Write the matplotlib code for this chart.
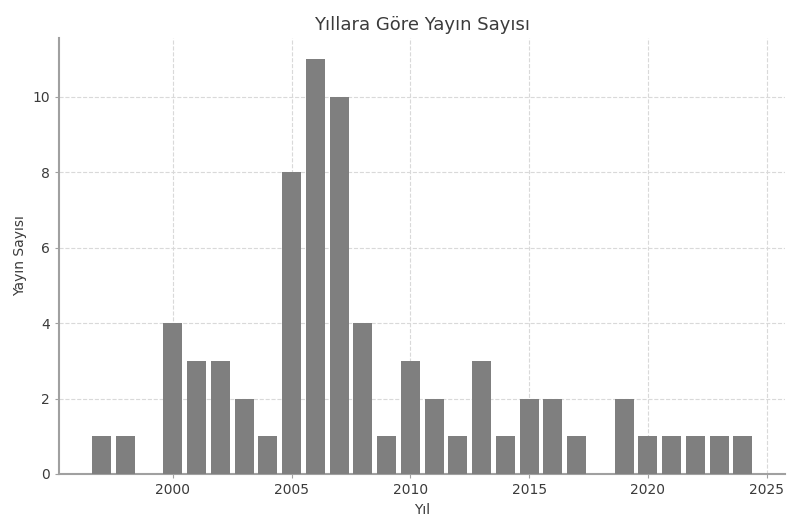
import matplotlib

matplotlib.use("Agg")
import matplotlib.pyplot as plt

# yearly publication counts
years = [1997, 1998, 1999, 2000, 2001, 2002, 2003, 2004, 2005, 2006, 2007,
         2008, 2009, 2010, 2011, 2012, 2013, 2014, 2015, 2016, 2017, 2018,
         2019, 2020, 2021, 2022, 2023, 2024]
counts = [1, 1, 0, 4, 3, 3, 2, 1, 8, 11, 10,
          4, 1, 3, 2, 1, 3, 1, 2, 2, 1, 0,
          2, 1, 1, 1, 1, 1]

TEXT = "#3b3b3b"
SPINE = "#a0a0a0"
GRID = "#d9d9d9"

plt.rcParams.update({
    "font.family": ["DejaVu Sans"],
    "text.color": TEXT,
    "axes.labelcolor": TEXT,
    "xtick.color": SPINE,
    "ytick.color": SPINE,
    "xtick.labelcolor": TEXT,
    "ytick.labelcolor": TEXT,
})

fig = plt.figure(figsize=(7.9, 5.22), dpi=100)
ax = fig.add_axes([0.075, 0.092, 0.919, 0.835])

ax.bar(years, counts, color="#7f7f7f", width=0.8, zorder=3)

ax.set_title("Yıllara Göre Yayın Sayısı", fontsize=13, color=TEXT)
ax.set_xlabel("Yıl", fontsize=10)
ax.set_ylabel("Yayın Sayısı", fontsize=10)

ax.grid(True, linestyle="--", color=GRID, linewidth=0.8, zorder=0)
ax.set_axisbelow(True)
for side in ("top", "right"):
    ax.spines[side].set_visible(False)
for side in ("left", "bottom"):
    ax.spines[side].set_color(SPINE)
    ax.spines[side].set_linewidth(1.5)
ax.tick_params(length=3, labelsize=10)

fig.savefig("out.png", dpi=100)
